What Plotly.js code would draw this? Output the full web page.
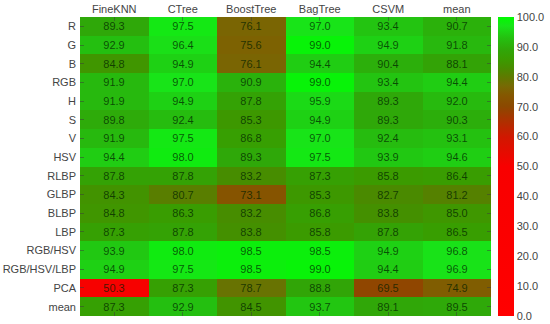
<!DOCTYPE html>
<html><head><meta charset="utf-8">
<script src="https://cdn.plot.ly/plotly-3.0.1.min.js"></script>
<style>html,body{margin:0;padding:0;background:#fff;}#chart{width:550px;height:324px;}</style>
</head><body><div id="chart"></div>
<script>
const columns = ['FineKNN', 'CTree', 'BoostTree', 'BagTree', 'CSVM', 'mean'];
const rows = ['R', 'G', 'B', 'RGB', 'H', 'S', 'V', 'HSV', 'RLBP', 'GLBP', 'BLBP', 'LBP', 'RGB/HSV', 'RGB/HSV/LBP', 'PCA', 'mean'];
const fineKNN   = [89.3, 92.9, 84.8, 91.9, 91.9, 89.8, 91.9, 94.4, 87.8, 84.3, 84.8, 87.3, 93.9, 94.9, 50.3, 87.3];
const cTree     = [97.5, 96.4, 94.9, 97.0, 94.9, 92.4, 97.5, 98.0, 87.8, 80.7, 86.3, 87.8, 98.0, 97.5, 87.3, 92.9];
const boostTree = [76.1, 75.6, 76.1, 90.9, 87.8, 85.3, 86.8, 89.3, 83.2, 73.1, 83.2, 83.8, 98.5, 98.5, 78.7, 84.5];
const bagTree   = [97.0, 99.0, 94.4, 99.0, 95.9, 94.9, 97.0, 97.5, 87.3, 85.3, 86.8, 85.8, 98.5, 99.0, 88.8, 93.7];
const cSVM      = [93.4, 94.9, 90.4, 93.4, 89.3, 89.3, 92.4, 93.9, 85.8, 82.7, 83.8, 87.8, 94.9, 94.4, 69.5, 89.1];
const meanCol   = [90.7, 91.8, 88.1, 94.4, 92.0, 90.3, 93.1, 94.6, 86.4, 81.2, 85.0, 86.5, 96.8, 96.9, 74.9, 89.5];
const colorTicks = [0, 10, 20, 30, 40, 50, 60, 70, 80, 90, 100];

const series = [fineKNN, cTree, boostTree, bagTree, cSVM, meanCol];
const z = rows.map((_, r) => series.map(s => s[r]));
const xIdx = columns.map((_, i) => i);
const yIdx = rows.map((_, i) => i);

const colorscale = [
  [0.0, '#ff0000'], [0.5, '#f80000'], [0.6, '#d01800'], [0.66, '#a83400'],
  [0.7, '#8c4800'], [0.74, '#845800'], [0.77, '#766a04'], [0.8, '#5e7a00'],
  [0.83, '#488c00'], [0.86, '#3a9c00'], [0.89, '#30a608'], [0.93, '#24c010'],
  [0.97, '#18e418'], [1.0, '#00fa00']
];

const trace = {
  type: 'heatmap', x: xIdx, y: yIdx, z: z,
  zmin: 0, zmax: 100, colorscale: colorscale,
  texttemplate: '%{z:.1f}',
  textfont: {family: 'Liberation Sans, Arial, sans-serif', size: 11, color: 'rgba(0,30,0,0.72)'},
  xgap: 0, ygap: 0, hoverinfo: 'skip',
  colorbar: {
    x: 1.017, xanchor: 'left', xpad: 0, y: 0.5, yanchor: 'middle', ypad: 0,
    len: 1, lenmode: 'fraction', thickness: 16, outlinewidth: 0,
    tickvals: colorTicks, ticktext: colorTicks.map(v => v.toFixed(1)),
    ticks: '', tickfont: {family: 'Liberation Sans, Arial, sans-serif', size: 11, color: '#444'}
  }
};

const layout = {
  width: 550, height: 324,
  margin: {l: 80, r: 54, t: 17, b: 8},
  paper_bgcolor: '#fff', plot_bgcolor: '#fff',
  font: {family: 'Liberation Sans, Arial, sans-serif', size: 11, color: '#444'},
  xaxis: {
    range: [-0.5, 5.5], side: 'top', tickvals: xIdx, ticktext: columns,
    showgrid: false, zeroline: false, showline: false,
    ticks: 'inside', ticklen: 4, tickcolor: 'rgba(60,60,60,0.5)', mirror: 'ticks',
    tickfont: {size: 11, color: '#444'}, fixedrange: true, ticklabelstandoff: 1,
    minor: {tick0: 0.5, dtick: 1, showgrid: true, griddash: 'dot', gridcolor: 'rgba(0,60,0,0.4)', gridwidth: 1, ticks: ''}
  },
  yaxis: {
    range: [15.5, -0.5], tickvals: yIdx, ticktext: rows,
    showgrid: false, zeroline: false, showline: false,
    ticks: 'inside', ticklen: 4, tickcolor: 'rgba(60,60,60,0.5)', mirror: 'ticks',
    tickfont: {size: 11, color: '#444'}, fixedrange: true, ticklabelstandoff: 3,
    minor: {tick0: 0.5, dtick: 1, showgrid: true, griddash: 'dot', gridcolor: 'rgba(0,60,0,0.4)', gridwidth: 1, ticks: ''}
  }
};

Plotly.newPlot('chart', [trace], layout, {displayModeBar: false, staticPlot: true});
</script>
</body></html>
